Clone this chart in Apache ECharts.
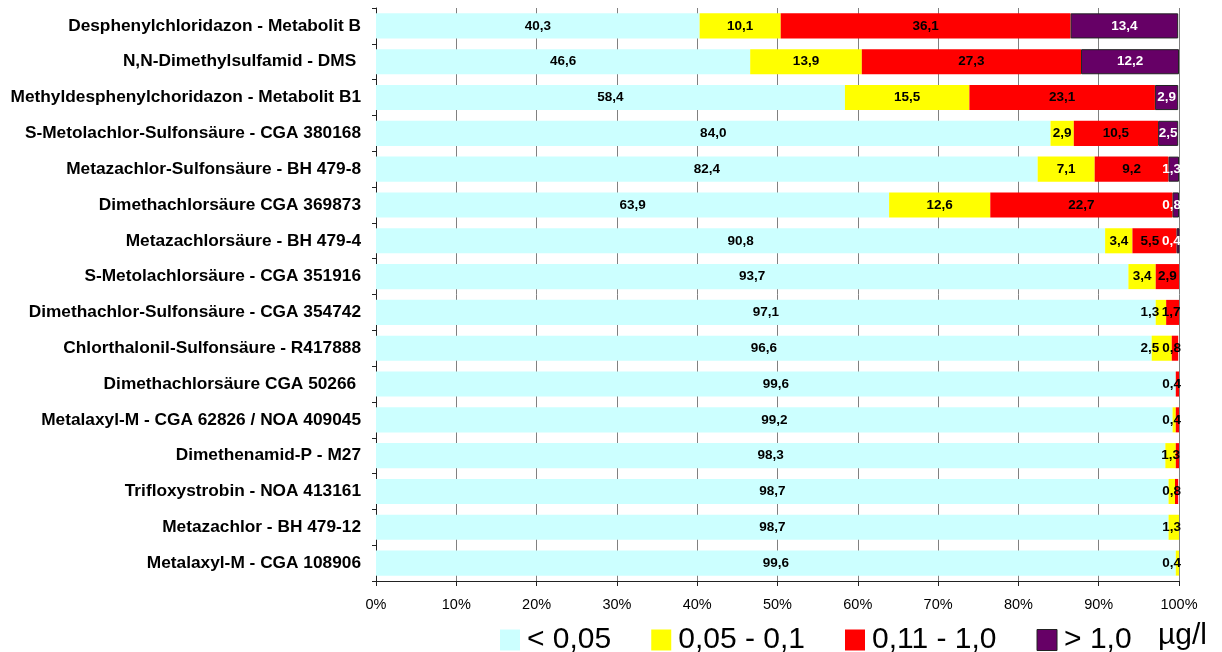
<!DOCTYPE html>
<html>
<head>
<meta charset="utf-8">
<script src="https://cdn.jsdelivr.net/npm/echarts@6/dist/echarts.min.js"></script>
<style>
  html, body { margin: 0; padding: 0; background: #fff; }
  #chart { width: 1222px; height: 652px; }
</style>
</head>
<body>
<div id="chart"></div>
<script>
// Substances, top to bottom
const categories = [
  'Desphenylchloridazon - Metabolit B',
  'N,N-Dimethylsulfamid - DMS ',
  'Methyldesphenylchoridazon - Metabolit B1',
  'S-Metolachlor-Sulfonsäure - CGA 380168',
  'Metazachlor-Sulfonsäure - BH 479-8',
  'Dimethachlorsäure CGA 369873',
  'Metazachlorsäure - BH 479-4',
  'S-Metolachlorsäure - CGA 351916',
  'Dimethachlor-Sulfonsäure - CGA 354742',
  'Chlorthalonil-Sulfonsäure - R417888',
  'Dimethachlorsäure CGA 50266 ',
  'Metalaxyl-M - CGA 62826 / NOA 409045',
  'Dimethenamid-P - M27',
  'Trifloxystrobin - NOA 413161',
  'Metazachlor - BH 479-12',
  'Metalaxyl-M - CGA 108906'
];

// Concentration classes (share of samples in %)
const classNames = ['< 0,05', '0,05 - 0,1', '0,11 - 1,0', '> 1,0'];
const unitLabel = 'µg/l';

const shareBelow005 = [40.3, 46.6, 58.4, 84.0, 82.4, 63.9, 90.8, 93.7, 97.1, 96.6, 99.6, 99.2, 98.3, 98.7, 98.7, 99.6];
const share005to01  = [10.1, 13.9, 15.5, 2.9, 7.1, 12.6, 3.4, 3.4, 1.3, 2.5, null, 0.4, 1.3, 0.8, 1.3, 0.4];
const share011to1   = [36.1, 27.3, 23.1, 10.5, 9.2, 22.7, 5.5, 2.9, 1.7, 0.8, 0.4, 0.4, 0.4, 0.4, null, null];
const shareAbove1   = [13.4, 12.2, 2.9, 2.5, 1.3, 0.8, 0.4, null, null, null, null, null, null, null, null, null];

const xTickValues = [0, 10, 20, 30, 40, 50, 60, 70, 80, 90, 100];

// Segments whose value label is left out (row, class)
const unlabeledCells = [[11, 2], [12, 2], [13, 2]];

const classColors = ['#CCFFFF', '#FFFF00', '#FF0000', '#660066'];
const labelColors = ['#000', '#000', '#000', '#fff'];
const allShares = [shareBelow005, share005to01, share011to1, shareAbove1];

const FONT = 'Arial, "Liberation Sans", sans-serif';
const LABEL_SIZE = 13.5;

const fmt = v => v.toFixed(1).replace('.', ',');
const isUnlabeled = (row, cls) => unlabeledCells.some(c => c[0] === row && c[1] === cls);

const chart = echarts.init(document.getElementById('chart'), null, { renderer: 'canvas' });

function buildSeries(offsets) {
  return allShares.map((values, s) => ({
    name: classNames[s],
    type: 'bar',
    stack: 'share',
    barCategoryGap: '30%',
    itemStyle: s === 3
      ? { color: classColors[s], borderColor: '#222', borderWidth: 1 }
      : { color: classColors[s] },
    label: {
      show: true,
      position: 'inside',
      color: labelColors[s],
      fontFamily: FONT,
      fontWeight: 'bold',
      fontSize: LABEL_SIZE,
      formatter: p => (p.value == null || isUnlabeled(p.dataIndex, s)) ? '' : fmt(p.value)
    },
    emphasis: { disabled: true },
    data: values.map((v, i) => ({
      value: v == null ? '-' : v,
      label: { offset: [offsets ? offsets[s][i] : 0, 0] }
    }))
  }));
}

const option = {
  animation: false,
  backgroundColor: '#fff',
  grid: { left: 376, right: 43, top: 8, bottom: 71, containLabel: false },
  legend: {
    left: 495,
    top: 620,
    icon: 'rect',
    itemWidth: 20,
    itemHeight: 21,
    itemGap: 40,
    selectedMode: false,
    textStyle: { fontFamily: FONT, fontSize: 30, color: '#000', padding: [0, 0, 0, 2] },
    data: [
      classNames[0], classNames[1], classNames[2],
      { name: classNames[3], itemStyle: { borderColor: '#222', borderWidth: 1 } }
    ]
  },
  graphic: [{
    type: 'text',
    x: 1158,
    y: 636,
    style: { text: unitLabel, fontFamily: FONT, fontSize: 30, fill: '#000', verticalAlign: 'middle' }
  }],
  xAxis: {
    type: 'value',
    min: xTickValues[0],
    max: xTickValues[xTickValues.length - 1],
    interval: xTickValues[1] - xTickValues[0],
    axisLine: { show: true, lineStyle: { color: '#222', width: 1 } },
    axisTick: { show: true, length: 5, lineStyle: { color: '#222' } },
    axisLabel: { formatter: '{value}%', fontFamily: FONT, fontSize: 14.5, color: '#000', margin: 16 },
    splitLine: { show: true, lineStyle: { color: '#808080', width: 1 } }
  },
  yAxis: {
    type: 'category',
    inverse: true,
    data: categories,
    axisLine: { show: true, lineStyle: { color: '#222', width: 1 } },
    axisTick: { show: true, length: 4, lineStyle: { color: '#222' } },
    axisLabel: { fontFamily: FONT, fontWeight: 'bold', fontSize: 17.3, color: '#000', margin: 15 },
    splitLine: { show: false }
  },
  series: buildSeries(null)
};

chart.setOption(option);

// Keep value labels inside the plot and clear of their right-hand neighbours
const ctx = document.createElement('canvas').getContext('2d');
ctx.font = 'bold ' + LABEL_SIZE + 'px ' + FONT;
const px = (v, row) => chart.convertToPixel({ gridIndex: 0 }, [v, row])[0];
const plotRight = px(xTickValues[xTickValues.length - 1], 0);
const offsets = allShares.map(a => a.map(() => 0));

categories.forEach((_, row) => {
  let cum = 0;
  const segs = [];
  allShares.forEach((values, s) => {
    const v = values[row];
    if (v == null) return;
    segs.push({ s, v, start: cum, end: cum + v });
    cum += v;
  });
  let limit = plotRight + 2;
  for (let k = segs.length - 1; k >= 0; k--) {
    const g = segs[k];
    if (isUnlabeled(row, g.s)) continue;
    const center = (px(g.start, row) + px(g.end, row)) / 2;
    const w = ctx.measureText(fmt(g.v)).width;
    const newCenter = Math.min(center, limit - w / 2);
    offsets[g.s][row] = newCenter - center;
    limit = newCenter - w / 2 - 3;
  }
});

chart.setOption({ series: buildSeries(offsets) });
</script>
</body>
</html>
